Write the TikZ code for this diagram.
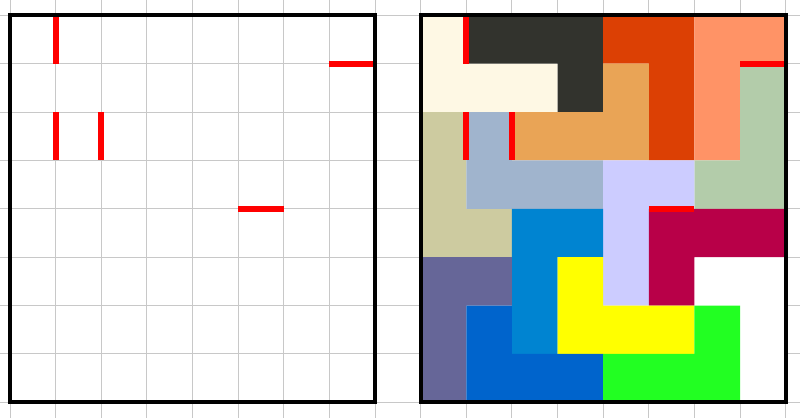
\documentclass[tikz,border=0pt]{standalone}
\usetikzlibrary{calc}
\definecolor{gridgray}{HTML}{C8C8C8}
\definecolor{pcream}{HTML}{FEF8E4}
\definecolor{pdark}{HTML}{32332D}
\definecolor{porred}{HTML}{DC4004}
\definecolor{psalmon}{HTML}{FF9366}
\definecolor{psage}{HTML}{B3CCAA}
\definecolor{plorange}{HTML}{E9A456}
\definecolor{pkhaki}{HTML}{CDCBA0}
\definecolor{pbluegray}{HTML}{A0B4CD}
\definecolor{plavender}{HTML}{CCCCFF}
\definecolor{pcrimson}{HTML}{B80048}
\definecolor{pblue}{HTML}{0084D1}
\definecolor{pyellow}{HTML}{FFFF00}
\definecolor{pslate}{HTML}{666698}
\definecolor{proyal}{HTML}{0064CC}
\definecolor{pgreen}{HTML}{22FF22}
\tikzset{
  gridline/.style={draw=gridgray,line width=1pt},
  wallmark/.style={draw=red,line width=6pt},
  frame/.style={draw=black,line width=4pt},
  cellsq/.style={x=45.625pt,y=-48.375pt}
}
\begin{document}
\begin{tikzpicture}[x=1pt,y=-1pt]
\useasboundingbox (0,0) rectangle (800,418);
\fill[white] (0,0) rectangle (800,418);
% background grid
\foreach \i in {0,...,17} {
  \draw[gridline] ({10+\i*45.625},0) -- ({10+\i*45.625},418);
}
\foreach \j in {0,...,8} {
  \draw[gridline] (0,{15.3+\j*48.375}) -- (800,{15.3+\j*48.375});
}
% left board
\begin{scope}[shift={(10,15.3)},cellsq]
  \draw[wallmark] (1,0) -- (1,1);
  \draw[wallmark] (7,1) -- (8,1);
  \draw[wallmark] (1,2) -- (1,3);
  \draw[wallmark] (2,2) -- (2,3);
  \draw[wallmark] (5,4) -- (6,4);
  \draw[frame] (0,0) rectangle (8,8);
\end{scope}
% right board
\begin{scope}[shift={(420.625,15.3)},cellsq]
  \fill[white] (0,0) rectangle (8,8);
  \fill[pcream] (0,0) -- (1,0) -- (1,1) -- (3,1) -- (3,2) -- (0,2) -- cycle;
  \fill[pdark] (1,0) -- (4,0) -- (4,2) -- (3,2) -- (3,1) -- (1,1) -- cycle;
  \fill[porred] (4,0) -- (6,0) -- (6,3) -- (5,3) -- (5,1) -- (4,1) -- cycle;
  \fill[psalmon] (6,0) -- (8,0) -- (8,1) -- (7,1) -- (7,3) -- (6,3) -- cycle;
  \fill[psage] (7,1) -- (8,1) -- (8,4) -- (6,4) -- (6,3) -- (7,3) -- cycle;
  \fill[plorange] (4,1) -- (5,1) -- (5,3) -- (2,3) -- (2,2) -- (4,2) -- cycle;
  \fill[pkhaki] (0,2) -- (1,2) -- (1,4) -- (2,4) -- (2,5) -- (0,5) -- cycle;
  \fill[pbluegray] (1,2) -- (2,2) -- (2,3) -- (4,3) -- (4,4) -- (1,4) -- cycle;
  \fill[plavender] (4,3) -- (6,3) -- (6,4) -- (5,4) -- (5,6) -- (4,6) -- cycle;
  \fill[pcrimson] (5,4) -- (8,4) -- (8,5) -- (6,5) -- (6,6) -- (5,6) -- cycle;
  \fill[pblue] (2,4) -- (4,4) -- (4,5) -- (3,5) -- (3,7) -- (2,7) -- cycle;
  \fill[pyellow] (3,5) -- (4,5) -- (4,6) -- (6,6) -- (6,7) -- (3,7) -- cycle;
  \fill[pslate] (0,5) -- (2,5) -- (2,6) -- (1,6) -- (1,8) -- (0,8) -- cycle;
  \fill[proyal] (1,6) -- (2,6) -- (2,7) -- (4,7) -- (4,8) -- (1,8) -- cycle;
  \fill[pgreen] (6,6) -- (7,6) -- (7,8) -- (4,8) -- (4,7) -- (6,7) -- cycle;
  \draw[wallmark] (1,0) -- (1,1);
  \draw[wallmark] (7,1) -- (8,1);
  \draw[wallmark] (1,2) -- (1,3);
  \draw[wallmark] (2,2) -- (2,3);
  \draw[wallmark] (5,4) -- (6,4);
  \draw[frame] (0,0) rectangle (8,8);
\end{scope}
\end{tikzpicture}
\end{document}
